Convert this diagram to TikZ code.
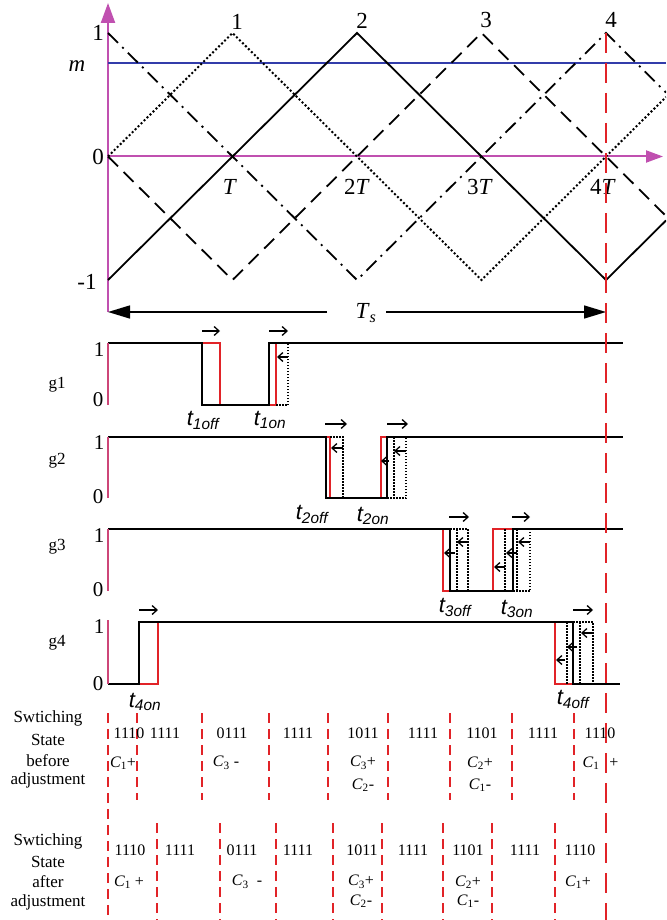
\documentclass[tikz,border=0pt]{standalone}
\usepackage{fontspec}
\setmainfont{Liberation Serif}
\newfontfamily\arialf{Liberation Sans}
\usetikzlibrary{arrows.meta}
\definecolor{mag}{RGB}{192,80,176}
\definecolor{gax}{RGB}{205,70,120}
\definecolor{bl}{RGB}{50,60,170}
\definecolor{rd}{RGB}{225,35,40}
\newcommand{\fs}[1]{\fontsize{#1}{#1}\selectfont}
\newcommand{\Cs}[1]{\textit{C}\textsubscript{#1}}
\tikzset{
  lbl/.style={inner sep=0pt, font=\fs{23}},
  glbl/.style={inner sep=0pt, font=\fs{17}},
  lvl/.style={inner sep=0pt, font=\fs{21}},
  tl/.style={inner sep=0pt, font=\fs{22}\arialf\itshape},
  tab/.style={inner sep=0pt, font=\fs{17}},
  num/.style={inner sep=0pt, font=\fs{16}},
  carrier/.style={line width=1.8pt},
  dsh/.style={carrier, dash pattern=on 14pt off 8pt},
  dashdot/.style={carrier, dash pattern=on 14pt off 6pt on 2pt off 6pt},
  dots/.style={line width=2pt, dash pattern=on 2pt off 2.2pt},
  wave/.style={line width=1.6pt, black},
  redw/.style={line width=1.6pt, rd},
  dotw/.style={line width=1.2pt, dash pattern=on 1.5pt off 1.5pt},
  sarr/.style={-{Straight Barb[length=5pt,width=9pt]}, line width=1.3pt},
  sepA/.style={rd, line width=2pt, dash pattern=on 10pt off 6pt},
  longred/.style={rd, line width=2pt, dash pattern=on 20pt off 10pt},
}
\begin{document}
\begin{tikzpicture}[x=1pt,y=-1pt]
\fill[white] (0,0) rectangle (666,920);
\useasboundingbox (0,0) rectangle (666,920);

% ---------------- carriers chart ----------------
\draw[mag, line width=2.2pt, -{Triangle[length=20pt,width=14pt]}] (108,312) -- (108,3);
\draw[mag, line width=2pt, -{Triangle[length=17pt,width=12pt]}] (108,156.5) -- (663,156.5);
\draw[bl, line width=2pt] (108,63) -- (666,63);

\begin{scope}
\clip (100,0) rectangle (666,300);
\draw[carrier] (108,280) -- (357,33) -- (606,280) -- (666,220.5);
\draw[dots] (108,156.5) -- (232.5,33) -- (481.5,280) -- (666,97);
\draw[dashdot] (108,33) -- (357,280) -- (606,33) -- (666,92.5);
\draw[dsh] (108,156.5) -- (232.5,280) -- (481.5,33) -- (666,216);
\end{scope}

\node[lbl] (y1) at (98,33) {1};
\node[lbl] (ym) at (77,66) {\textit{m}};
\node[lbl] (y0) at (98,157) {0};
\node[lbl] (ym1) at (87,282) {-1};
\node[lbl] (p1) at (237,22) {1};
\node[lbl] (p2) at (362,21) {2};
\node[lbl] (p3) at (486,20) {3};
\node[lbl] (p4) at (611,20) {4};
\node[lbl] (xT) at (230,187) {\textit{T}};
\node[lbl] (x2T) at (357,187) {2\textit{T}};
\node[lbl] (x3T) at (480,187) {3\textit{T}};
\node[lbl] (x4T) at (603,187) {4\textit{T}};

\node[lbl] (Ts) at (366,313) {\textit{T}\textsubscript{\textit{s}}};
\coordinate (TsL) at (108,312);
\coordinate (TsR) at (606,312);
\draw[line width=1.5pt, -{Triangle[length=22pt,width=13pt]}] (327,312) -- (TsL);
\draw[line width=1.5pt, -{Triangle[length=22pt,width=13pt]}] (386,312) -- (TsR);

% ---------------- g1 ----------------
\node[glbl] (g1) at (57,385) {g1};
\node[lvl] at (99,350) {1};
\node[lvl] at (98,400) {0};
\draw[redw] (202,343) -- (220,343) -- (220,405) -- (276,405) -- (276,343) -- (285,343);
\draw[dotw] (276,405) -- (288,405) -- (288,343);
\draw[wave] (108,343) -- (202,343) -- (202,405) -- (269,405) -- (269,343) -- (623,343);
\draw[gax, line width=2pt] (108,343) -- (108,405);
\draw[sarr] (202,331) -- (220,331);
\draw[sarr] (269,331) -- (288,331);
\draw[sarr] (288,357) -- (277,357);
\node[tl] (t1off) at (203,420) {t\textsubscript{1off}};
\node[tl] (t1on) at (270,420) {t\textsubscript{1on}};

% ---------------- g2 ----------------
\node[glbl] (g2) at (57,461) {g2};
\node[lvl] at (99,443) {1};
\node[lvl] at (98,497) {0};
\draw[redw] (315,437) -- (330,437) -- (330,498) -- (381,498) -- (381,437) -- (387,437);
\draw[dotw] (330,437) -- (343,437) -- (343,498) -- (330,498);
\draw[dotw] (394,437) -- (394,498);
\draw[dotw] (387,498) -- (406,498) -- (406,437) -- (387,437);
\draw[wave] (108,437) -- (326,437) -- (326,498) -- (387,498) -- (387,437) -- (623,437);
\draw[gax, line width=2pt] (108,437) -- (108,498);
\draw[sarr] (325,424) -- (347,424);
\draw[sarr] (343,448) -- (331,448);
\draw[sarr] (387,424) -- (408,424);
\draw[sarr] (406,451) -- (394,451);
\draw[sarr] (389,461) -- (381,461);
\node[tl] (t2off) at (312,514) {t\textsubscript{2off}};
\node[tl] (t2on) at (373,516) {t\textsubscript{2on}};

% ---------------- g3 ----------------
\node[glbl] (g3) at (57,547) {g3};
\node[lvl] at (99,536) {1};
\node[lvl] at (98,590) {0};
\draw[redw] (430,529) -- (443,529) -- (443,591) -- (493,591) -- (493,529) -- (513,529);
\draw[dotw] (450,529) -- (468,529) -- (468,591);
\draw[dotw] (457,529) -- (457,591);
\draw[dotw] (505,529) -- (505,591);
\draw[dotw] (517,529) -- (517,591);
\draw[dotw] (513,591) -- (530,591) -- (530,529);
\draw[wave] (108,529) -- (450,529) -- (450,591) -- (513,591) -- (513,529) -- (623,529);
\draw[gax, line width=2pt] (108,529) -- (108,591);
\draw[sarr] (449,517) -- (469,517);
\draw[sarr] (512,517) -- (530,517);
\draw[sarr] (468,542) -- (457,542);
\draw[sarr] (455,553) -- (444,553);
\draw[sarr] (530,542) -- (518,542);
\draw[sarr] (517,553) -- (506,553);
\draw[sarr] (505,567) -- (494,567);
\node[tl] (t3off) at (455,607) {t\textsubscript{3off}};
\node[tl] (t3on) at (517,609) {t\textsubscript{3on}};

% ---------------- g4 ----------------
\node[glbl] (g4) at (57,643) {g4};
\node[lvl] at (99,627) {1};
\node[lvl] at (98,684) {0};
\draw[redw] (108,684) -- (158,684) -- (158,622) -- (170,622);
\draw[redw] (540,622) -- (555,622) -- (555,684) -- (573,684);
\draw[dotw] (573,622) -- (593,622) -- (593,684);
\draw[dotw] (567,622) -- (567,684);
\draw[dotw] (580,622) -- (580,684);
\draw[wave] (108,684) -- (139,684) -- (139,622) -- (573,622) -- (573,684) -- (620,684);
\draw[gax, line width=2pt] (108,620) -- (108,684);
\draw[sarr] (139,610) -- (158,610);
\draw[sarr] (573,610) -- (593,610);
\draw[sarr] (593,633) -- (581,633);
\draw[sarr] (577,647) -- (567,647);
\draw[sarr] (565,660) -- (556,660);
\node[tl] (t4on) at (145,702) {t\textsubscript{4on}};
\node[tl] (t4off) at (573,699) {t\textsubscript{4off}};

% ---------------- table ----------------
\draw[longred] (606,33) -- (606,920);
\draw[sepA] (108,713) -- (108,920);
\foreach \x in {137,202,269,328,388,450,512,574} \draw[sepA] (\x,713) -- (\x,800);
\foreach \x in {157,220,276,333,382,443,492,555} \draw[sepA] (\x,823) -- (\x,920);

\node[tab] (s1a) at (48,718) {Swtiching};
\node[tab] (s1b) at (48,740) {State};
\node[tab] (s1c) at (48,761) {before};
\node[tab] (s1d) at (48,780) {adjustment};
\node[tab] (s2a) at (48,841) {Swtiching};
\node[tab] (s2b) at (48,862) {State};
\node[tab] (s2c) at (48,882) {after};
\node[tab] (s2d) at (48,902) {adjustment};

\node[num] (b1) at (129,733) {1110};
\node[num] (b2) at (165,733) {1111};
\node[num] (b3) at (232,733) {0111};
\node[num] (b4) at (298,733) {1111};
\node[num] (b5) at (363,733) {1011};
\node[num] (b6) at (423,733) {1111};
\node[num] (b7) at (482,733) {1101};
\node[num] (b8) at (543,733) {1111};
\node[num] (b9) at (600,733) {1110};
\node[num] (bc1) at (123,763) {\Cs{1}+};
\node[num] (bc3) at (226,763) {\Cs{3} -};
\node[num] (bc5a) at (363,763) {\Cs{3}+};
\node[num] (bc5b) at (363,785) {\Cs{2}-};
\node[num] (bc7a) at (480,763) {\Cs{2}+};
\node[num] (bc7b) at (480,785) {\Cs{1}-};
\node[num] (bc9a) at (591,763) {\Cs{1}};
\node[num] (bc9b) at (614,763) {+};

\node[num] (a1) at (130,850) {1110};
\node[num] (a2) at (180,850) {1111};
\node[num] (a3) at (242,850) {0111};
\node[num] (a4) at (298,850) {1111};
\node[num] (a5) at (362,850) {1011};
\node[num] (a6) at (413,850) {1111};
\node[num] (a7) at (468,850) {1101};
\node[num] (a8) at (525,850) {1111};
\node[num] (a9) at (580,850) {1110};
\node[num] (ac1) at (129,882) {\Cs{1} +};
\node[num] (ac3) at (247,882) {\Cs{3}\ \ -};
\node[num] (ac5a) at (361,882) {\Cs{3}+};
\node[num] (ac5b) at (361,901) {\Cs{2}-};
\node[num] (ac7a) at (468,882) {\Cs{2}+};
\node[num] (ac7b) at (468,901) {\Cs{1}-};
\node[num] (ac9) at (578,882) {\Cs{1}+};
\end{tikzpicture}
\end{document}
